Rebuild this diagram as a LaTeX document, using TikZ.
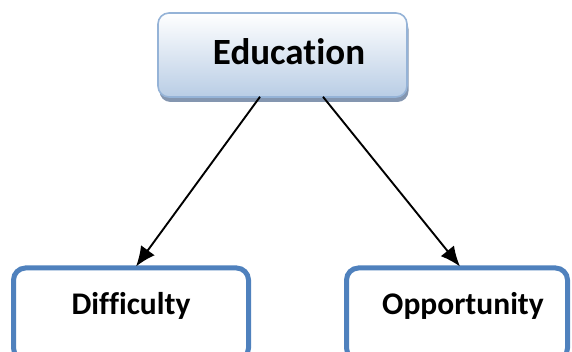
\documentclass[tikz,border=0pt]{standalone}
\usepackage{fontspec}
\setmainfont{Carlito}[Ligatures=NoCommon]
\usetikzlibrary{arrows.meta,shadows,calc}
\definecolor{edgeblue}{HTML}{4F81BD}
\definecolor{lightedge}{HTML}{95B3D7}
\definecolor{fillbot}{HTML}{B9CDE5}
\definecolor{shadowc}{HTML}{8496B0}
\tikzset{
  topbox/.style={draw=lightedge, line width=1.6pt, rounded corners=11pt,
    top color=white, bottom color=fillbot, minimum width=249pt, minimum height=84pt,
    drop shadow={shadow xshift=1.5pt, shadow yshift=-5pt, fill=shadowc, opacity=1}},
  leafbox/.style={draw=edgeblue, line width=5pt, rounded corners=12pt, fill=white},
  bigtxt/.style={font=\bfseries\fontsize{37}{44}\selectfont},
  leaftxt/.style={font=\bfseries\fontsize{31.5}{38}\selectfont},
  conn/.style={line width=1.9pt, -{Latex[length=20pt,width=17pt]}}
}
\begin{document}
\begin{tikzpicture}[x=1pt,y=1pt]
\useasboundingbox (0,0) rectangle (572,352);
\clip (0,0) rectangle (572,352);
\node[topbox] (edu) at (282.5,297) {};
\node[bigtxt] (edutxt) at (289,300) {Education};
\node[leafbox, minimum width=235pt, minimum height=92pt] (dif) at (131,38) {};
\node[leaftxt] (diftxt) at (131,46) {Difficulty};
\node[leafbox, minimum width=221pt, minimum height=92pt] (opp) at (457,38) {};
\node[leaftxt] (opptxt) at (463,46) {Opportunity};
\coordinate (e1) at ($(edu.south)+(-22.5,1)$);
\coordinate (e2) at ($(edu.south)+(40.5,1)$);
\coordinate (d1) at ($(dif.north)+(5,-1)$);
\coordinate (o1) at ($(opp.north)+(3,-1)$);
\draw[conn] (e1) -- (d1);
\draw[conn] (e2) -- (o1);
\end{tikzpicture}
\end{document}
